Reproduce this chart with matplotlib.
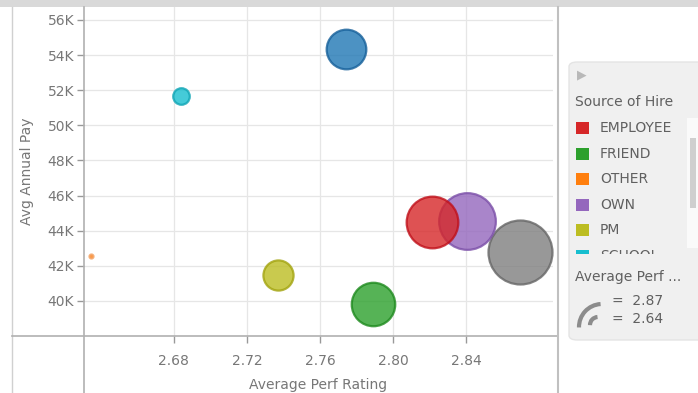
import matplotlib
matplotlib.use("Agg")
import matplotlib.pyplot as plt
from matplotlib.lines import Line2D
from matplotlib.patches import FancyBboxPatch, Rectangle, Arc

# data
sources = ["EMPLOYEE", "FRIEND", "OTHER", "OWN", "PM", "SCHOOL", "STAFFING", "WEB"]
perf = [2.821, 2.789, 2.635, 2.8405, 2.737, 2.684, 2.774, 2.869]
pay = [44510, 39830, 42570, 44570, 41490, 51660, 54340, 42800]
colors = ["#d62728", "#2ca02c", "#ff7f0e", "#9467bd", "#bcbd22", "#17becf", "#1f77b4", "#7f7f7f"]
edges = ["#c0101a", "#1e8a1e", "#f3a060", "#7b4fa8", "#a3a410", "#0fa5b5", "#16609a", "#666666"]
x_ticks = [2.68, 2.72, 2.76, 2.80, 2.84]
y_ticks = [40000, 42000, 44000, 46000, 48000, 50000, 52000, 54000, 56000]
size_min, size_max = 2.64, 2.87

W, H = 698, 393
fig = plt.figure(figsize=(W / 100, H / 100), dpi=100)
fig.patch.set_facecolor("white")


def fx(px):
    return px / W


def fy(py):
    return 1 - py / H


ax = fig.add_axes([fx(84), fy(336), fx(553) - fx(84), fy(7) - fy(336)])
ax.set_xlim(2.6309, 2.8873)
ax.set_ylim(38000, 56740)

# bubble size follows the perf rating (radius in px)
lo, hi = min(perf), max(perf)
sizes = []
for p in perf:
    r = 2 + (p - lo) / (hi - lo) * 30
    sizes.append((2 * r * 0.72) ** 2)

order = sorted(range(len(perf)), key=lambda i: -sizes[i])
for i in order:
    ax.scatter(perf[i], pay[i], s=sizes[i], c=colors[i], alpha=0.8,
               edgecolors=edges[i], linewidths=1.6, zorder=3)

ax.set_xticks(x_ticks)
ax.set_xticklabels(["%.2f" % v for v in x_ticks])
ax.set_yticks(y_ticks)
ax.set_yticklabels(["%dK" % (v // 1000) for v in y_ticks])
ax.grid(True, color="#e6e6e6", linewidth=0.9)
ax.set_axisbelow(True)
for s in ax.spines.values():
    s.set_visible(False)
ax.tick_params(axis="both", colors="#999999", labelcolor="#777777",
               labelsize=10, length=5, width=1)
ax.tick_params(axis="x", pad=8)
ax.tick_params(axis="y", pad=2)
ax.set_xlabel("Average Perf Rating", color="#777777", fontsize=10, labelpad=7)
ax.set_ylabel("Avg Annual Pay", color="#777777", fontsize=10, labelpad=10)

# frame lines of the panel
line_c = "#b0b0b0"
fig.add_artist(Line2D([fx(84), fx(84)], [0, fy(7)], color=line_c, lw=1.2))
fig.add_artist(Line2D([fx(12), fx(12)], [0, fy(7)], color="#d0d0d0", lw=1))
fig.add_artist(Line2D([fx(12), fx(557)], [fy(336), fy(336)], color=line_c, lw=1.2))
fig.add_artist(Line2D([fx(558), fx(558)], [0, fy(7)], color="#c0c0c0", lw=1.5))
fig.add_artist(Rectangle((0, fy(7)), 1, 7 / H, color="#d9d9d9", lw=0))

# legend panel
fig.add_artist(FancyBboxPatch((fx(569), fy(340)), fx(140), 278 / H,
                              boxstyle="round,pad=0,rounding_size=0.012",
                              facecolor="#f0f0f0", edgecolor="#e4e4e4", lw=1))
fig.add_artist(Rectangle((fx(687), fy(248)), fx(11), 130 / H,
                         facecolor="#fafafa", edgecolor="none"))
fig.add_artist(Rectangle((fx(690), fy(208)), fx(6), 70 / H,
                         facecolor="#cfcfcf", edgecolor="none"))
fig.text(fx(577), fy(75), "\u25b6", color="#b8b8b8", fontsize=9, va="center")
fig.text(fx(575), fy(102), "Source of Hire", color="#606060", fontsize=10, va="center")

clip = Rectangle((fx(570), fy(254)), fx(116), 140 / H, transform=fig.transFigure,
                 visible=False)
fig.add_artist(clip)
for k in range(6):
    yy = 128 + k * 25.6
    sq = Rectangle((fx(576), fy(yy + 6)), fx(13), 12 / H,
                   facecolor=colors[k], edgecolor="none")
    fig.add_artist(sq)
    sq.set_clip_path(clip)
    t = fig.text(fx(600), fy(yy), sources[k], color="#606060", fontsize=10, va="center")
    t.set_clip_path(clip)

fig.text(fx(575), fy(277), "Average Perf ...", color="#606060", fontsize=10, va="center")
fig.add_artist(Arc((fx(602), fy(327)), fx(46), 46 / H, theta1=92, theta2=182,
                   color="#8c8c8c", lw=3))
fig.add_artist(Arc((fx(598), fy(325)), fx(16), 16 / H, theta1=92, theta2=182,
                   color="#8c8c8c", lw=3))
fig.text(fx(612), fy(301), "=  %.2f" % size_max, color="#606060", fontsize=10, va="center")
fig.text(fx(612), fy(319), "=  %.2f" % size_min, color="#606060", fontsize=10, va="center")

fig.savefig("out.png", dpi=100)
